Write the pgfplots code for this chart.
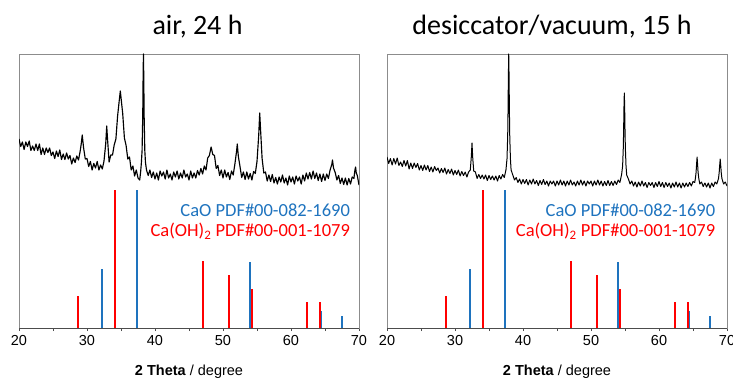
\documentclass[border=0pt]{standalone}
\usepackage{fontspec}
\setmainfont{Carlito}
\newfontfamily\arialf{Liberation Sans}
\usepackage{pgfplots}
\pgfplotsset{compat=1.18}
\definecolor{cblue}{RGB}{30,115,190}
\definecolor{cred}{RGB}{255,0,0}
\pgfplotsset{
 xrdstyle/.style={
  scale only axis, width=340pt, height=274pt,
  xmin=20, xmax=70, ymin=0, ymax=274,
  xtick={20,30,40,50,60,70}, xticklabels={20,30,40,50,60,70},
  minor xtick={25,35,45,55,65},
  ytick=\empty,
  xtick pos=left,
  tick align=outside,
  major tick length=3pt, minor tick length=3pt,
  tick style={black!70, line width=0.8pt},
  axis line style={draw=gray!90, line width=0.8pt},
  xticklabel style={font=\arialf\fontsize{14.5}{16}\selectfont, yshift=-1pt},
  xlabel={\textbf{2 Theta} / degree},
  xlabel style={font=\arialf\fontsize{14.5}{16}\selectfont, at={(axis description cs:0.5,0)}, anchor=base, yshift=-47pt},
  anchor=south west,
 }
}
\begin{document}
\begin{tikzpicture}
\useasboundingbox (0pt,0pt) rectangle (733pt,378pt);
% ---------------- left panel: air, 24 h
\begin{axis}[xrdstyle, at={(19pt,50pt)}]
\addplot[black, line width=1.15pt, line join=round, mark=none] coordinates {
(20,189)(20.25,181.5)(20.5,186)(20.75,178.5)(21,186)(21.25,181.5)(21.5,187)(21.75,177.5)(22,182)(22.25,177.5)(22.5,184)(22.75,177.5)(23,184)(23.25,173.5)(23.5,180)(23.75,173.5)(24,180)(24.25,175.5)(24.5,180)(24.75,172.5)(25,176)(25.25,169.5)(25.5,177)(25.75,171.5)(26,178)(26.25,168.5)(26.5,174)(26.75,168.5)(27,175)(27.25,169)(27.5,172.5)(27.75,164)(28,170)(28.25,165.5)(28.5,172)(28.75,168)(29,177)(29.15,184)(29.3,193)(29.5,180)(29.75,169)(30,169.5)(30.25,161.5)(30.5,166.5)(30.75,158)(31,164.5)(31.25,160)(31.5,166.5)(31.75,158)(32,163)(32.25,159)(32.5,167)(32.75,184)(32.9,202)(33,191)(33.25,166)(33.5,173)(33.75,173)(34,183)(34.25,189)(34.5,212)(34.75,228)(34.9,237)(35,230.5)(35.25,214.5)(35.5,190)(35.75,182.5)(36,169)(36.25,171)(36.5,158)(36.75,162)(37,152)(37.25,158)(37.5,150)(37.75,148)(37.9,157)(38,165.5)(38.1,177.5)(38.2,213)(38.25,250)(38.3,274)(38.35,250)(38.4,213)(38.5,177.5)(38.6,165.5)(38.75,158)(39,152.5)(39.25,158)(39.5,150.5)(39.75,156)(40,149)(40.25,155)(40.5,148)(40.75,157)(41,152)(41.25,156)(41.5,149)(41.75,158)(42,150)(42.25,154)(42.5,148)(42.75,156)(43,151)(43.25,157)(43.5,149)(43.75,155)(44,150)(44.25,158)(44.5,151)(44.75,154)(45,148)(45.25,157)(45.5,150)(45.75,155)(46,150)(46.25,157.5)(46.5,153)(46.75,159.5)(47,154)(47.25,162)(47.5,158)(47.75,170)(48,172.5)(48.25,181)(48.5,173.5)(48.75,172.5)(49,159.5)(49.25,162.5)(49.5,152.5)(49.75,158)(50,150)(50.25,158)(50.5,151)(50.75,155.5)(51,148.5)(51.25,157)(51.5,153)(51.75,164)(52,177)(52.1,184)(52.25,172)(52.5,161.5)(52.75,150.5)(53,156)(53.25,148.5)(53.5,156)(53.75,149)(54,154.5)(54.25,148)(54.5,156.5)(54.75,154.5)(55,166.5)(55.25,192.5)(55.4,215)(55.5,201.5)(55.75,169.5)(56,155)(56.25,156)(56.5,147)(56.75,153)(57,146.5)(57.25,153.5)(57.5,145)(57.75,150.5)(58,144)(58.25,151)(58.5,146)(58.75,153)(59,145)(59.25,150)(59.5,143)(59.75,152)(60,146)(60.25,151)(60.5,144)(60.75,152)(61,147)(61.25,151)(61.5,144)(61.75,153)(62,147)(62.25,155)(62.5,149)(62.75,155.5)(63,149)(63.25,157)(63.5,149.5)(63.75,155)(64,147.5)(64.25,154)(64.5,146.5)(64.75,154)(65,147.5)(65.25,154)(65.5,149.5)(65.75,158)(66,163.5)(66.1,168)(66.25,160)(66.5,155.5)(66.75,148)(67,152.5)(67.25,144.5)(67.5,150)(67.75,143.5)(68,150)(68.25,143)(68.5,149.5)(68.75,144)(69,151)(69.25,149.5)(69.4,158)(69.5,161)(69.6,155)(69.75,152.5)(70,143)
};
\addplot[ycomb, cblue, line width=2pt, mark=none] coordinates {
(32.2,59.3)(37.35,137.7)(53.95,65.7)(64.4,16.7)(67.45,12)
};
\addplot[ycomb, cred, line width=2pt, mark=none] coordinates {
(28.65,32.3)(34.05,137.7)(47.1,67.3)(50.95,53)(54.25,39.3)(62.3,25.7)(64.2,25.7)
};
\draw[black!70, line width=0.8pt] (rel axis cs:0,0) -- (rel axis cs:1,0);
\node[anchor=base east, inner sep=0pt, text=cblue, font=\fontsize{18.5}{20}\selectfont] at (axis cs:68.7,111.5) {CaO PDF\#00-082-1690};
\node[anchor=base east, inner sep=0pt, text=cred, font=\fontsize{18.5}{20}\selectfont] at (axis cs:68.7,91.3) {Ca(OH)\textsubscript{2} PDF\#00-001-1079};
\end{axis}
% ---------------- right panel: desiccator/vacuum, 15 h
\begin{axis}[xrdstyle, at={(387pt,50pt)}]
\addplot[black, line width=1.0pt, line join=round, mark=none] coordinates {
(20,171)(20.25,164.5)(20.5,169.5)(20.75,163)(21,169.5)(21.25,164)(21.5,170)(21.75,162.5)(22,166)(22.25,161.5)(22.5,167.5)(22.75,162)(23,167.5)(23.25,159)(23.5,165)(23.75,159.5)(24,165)(24.25,160.5)(24.5,164.5)(24.75,158)(25,162.5)(25.25,157.5)(25.5,163)(25.75,158)(26,162.5)(26.25,156.5)(26.5,161)(26.75,156)(27,161.5)(27.25,157.5)(27.5,160)(27.75,155)(28,159.5)(28.25,155.5)(28.5,160)(28.75,154)(29,158.5)(29.25,154.5)(29.5,159)(29.75,153)(30,157.5)(30.25,153.5)(30.5,158)(30.75,152)(31,156.5)(31.25,152.5)(31.5,156)(31.75,151)(32,156)(32.25,158)(32.4,171.5)(32.5,185)(32.6,171)(32.75,157)(33,156)(33.25,149.5)(33.5,153.5)(33.75,149.5)(34,153)(34.25,149)(34.5,153)(34.75,147.5)(35,152.5)(35.25,148.5)(35.5,152)(35.75,148)(36,152)(36.25,147)(36.5,152.5)(36.75,149)(37,153.5)(37.25,150.5)(37.5,158.5)(37.65,169.5)(37.75,192.5)(37.8,217.5)(37.85,252)(37.9,274)(37.95,252)(38,217.5)(38.05,192.5)(38.15,169)(38.25,158)(38.5,153)(38.75,148)(39,150.5)(39.25,145.5)(39.5,149)(39.75,144)(40,148.5)(40.25,144.5)(40.5,148.5)(40.75,143)(41,148)(41.25,144)(41.5,149)(41.75,144)(42,147.5)(42.25,142.5)(42.5,147.5)(42.75,143.5)(43,148.5)(43.25,143.5)(43.5,147)(43.75,142)(44,147)(44.25,144)(44.5,147)(44.75,142)(45,147)(45.25,143)(45.5,148)(45.75,143)(46,147)(46.25,142)(46.5,147)(46.75,143)(47,148)(47.25,143)(47.5,146)(47.75,142)(48,147)(48.25,143)(48.5,148)(48.75,143)(49,147)(49.25,142)(49.5,147)(49.75,144)(50,147)(50.25,142)(50.5,147)(50.75,143)(51,148)(51.25,143)(51.5,147)(51.75,142)(52,146.5)(52.25,142.5)(52.5,147.5)(52.75,142.5)(53,146.5)(53.25,142.5)(53.5,147)(53.75,143.5)(54,148)(54.25,145.5)(54.5,153.5)(54.65,162)(54.75,180.5)(54.8,198.5)(54.85,221)(54.9,235)(54.95,221)(55,198.5)(55.05,180.5)(55.15,162)(55.25,153)(55.5,149)(55.75,144)(56,147)(56.25,142)(56.5,146)(56.75,141)(57,146)(57.25,142)(57.5,147)(57.75,142)(58,145.5)(58.25,140.5)(58.5,145.5)(58.75,142.5)(59,145.5)(59.25,140.5)(59.5,145.5)(59.75,141.5)(60,146.5)(60.25,141.5)(60.5,145.5)(60.75,140.5)(61,145.5)(61.25,141.5)(61.5,145)(61.75,140)(62,145)(62.25,141)(62.5,146)(62.75,141)(63,145)(63.25,140)(63.5,145)(63.75,141)(64,145)(64.25,141.5)(64.5,145.5)(64.75,142)(65,146.5)(65.25,145.5)(65.35,149.5)(65.45,155.5)(65.5,161)(65.6,171)(65.7,161)(65.75,155.5)(65.85,149.5)(66,144)(66.25,146)(66.5,141.5)(66.75,145)(67,141)(67.25,145)(67.5,140)(67.75,145)(68,141.5)(68.25,146)(68.5,144)(68.75,149.5)(68.85,155.5)(68.9,160.5)(69,169)(69.1,160.5)(69.15,155.5)(69.25,149.5)(69.5,144)(69.75,146)(70,142)
};
\addplot[ycomb, cblue, line width=2pt, mark=none] coordinates {
(32.2,59.3)(37.35,137.7)(53.95,65.7)(64.4,16.7)(67.45,12)
};
\addplot[ycomb, cred, line width=2pt, mark=none] coordinates {
(28.65,32.3)(34.05,137.7)(47.1,67.3)(50.95,53)(54.25,39.3)(62.3,25.7)(64.2,25.7)
};
\draw[black!70, line width=0.8pt] (rel axis cs:0,0) -- (rel axis cs:1,0);
\node[anchor=base east, inner sep=0pt, text=cblue, font=\fontsize{18.5}{20}\selectfont] at (axis cs:68.3,111.5) {CaO PDF\#00-082-1690};
\node[anchor=base east, inner sep=0pt, text=cred, font=\fontsize{18.5}{20}\selectfont] at (axis cs:68.3,91.3) {Ca(OH)\textsubscript{2} PDF\#00-001-1079};
\end{axis}
\node[anchor=base, inner sep=0pt, font=\fontsize{28}{30}\selectfont] at (197.5pt,343pt) {air, 24 h};
\node[anchor=base, inner sep=0pt, font=\fontsize{28}{30}\selectfont] at (552pt,343pt) {desiccator/vacuum, 15 h};
\end{tikzpicture}
\end{document}
